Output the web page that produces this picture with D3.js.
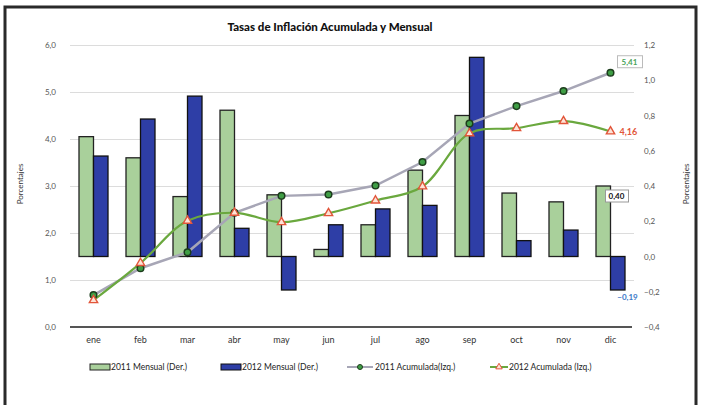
<!DOCTYPE html>
<meta charset="utf-8">
<head>
    <script src="https://d3js.org/d3.v7.min.js"></script>
    <style>
        body { margin: 0; background: #fff; }
        text { font-family: Lato, "Open Sans", sans-serif; }
        .grid line { stroke: #dcdcdc; }
    </style>
</head>
<body>
<div id="graph"></div>
<script>
    // months
    var months = ["ene","feb","mar","abr","may","jun","jul","ago","sep","oct","nov","dic"];
    // monthly rates (right axis)
    var mensual2011 = [0.68, 0.56, 0.34, 0.83, 0.35, 0.04, 0.18, 0.49, 0.80, 0.36, 0.31, 0.40];
    var mensual2012 = [0.57, 0.78, 0.91, 0.16, -0.19, 0.18, 0.27, 0.29, 1.13, 0.09, 0.15, -0.19];
    // accumulated rates (left axis)
    var acum2011 = [0.68, 1.25, 1.59, 2.43, 2.79, 2.82, 3.01, 3.51, 4.33, 4.70, 5.02, 5.41];
    var acum2012 = [0.57, 1.36, 2.26, 2.43, 2.23, 2.42, 2.69, 2.99, 4.12, 4.23, 4.38, 4.16];
    var leftTicks = [0, 1, 2, 3, 4, 5, 6];
    var rightTicks = [-0.4, -0.2, 0, 0.2, 0.4, 0.6, 0.8, 1.0, 1.2];

    var W = 702, H = 405;
    var margin = {top: 45, right: 68, bottom: 78, left: 70},
        width = W - margin.left - margin.right,
        height = H - margin.top - margin.bottom;

    var fmt = function(d) { return d3.format(".1f")(d).replace(".", ","); };
    function fmt2(v) { return d3.format(".2f")(v).replace(".", ","); }

    var svgRoot = d3.select("#graph").append("svg")
        .attr("width", W).attr("height", H);

    // outer frame
    svgRoot.append("rect")
        .attr("x", 5).attr("y", 7).attr("width", 691).attr("height", 410)
        .attr("fill", "#fff").attr("stroke", "#2a2a2a").attr("stroke-width", 3);

    svgRoot.append("text")
        .attr("x", 330).attr("y", 31)
        .attr("text-anchor", "middle")
        .style("font-size", "11.5px").style("font-weight", "900")
        .attr("fill", "#111")
        .text("Tasas de Inflación Acumulada y Mensual");

    var svg = svgRoot.append("g")
        .attr("transform", "translate(" + margin.left + "," + margin.top + ")");

    var x = d3.scaleBand().domain(months).range([0, width]);
    var xb = d3.scaleBand().domain(["a", "b"]).range([0, 29]);
    var yL = d3.scaleLinear().domain([0, 6]).range([height, 0]);
    var yR = d3.scaleLinear().domain([-0.4, 1.2]).range([height, 0]);

    // gridlines
    svg.append("g").attr("class", "grid")
        .call(d3.axisLeft(yL).tickValues(leftTicks.slice(1)).tickSize(-width).tickFormat(""))
        .call(function(g) { g.select(".domain").remove(); });

    // left axis labels
    svg.append("g")
        .call(d3.axisLeft(yL).tickValues(leftTicks).tickSize(0).tickPadding(14).tickFormat(fmt))
        .call(function(g) {
            g.select(".domain").remove();
            g.selectAll("text").style("font-size", "8px").attr("fill", "#555");
        });

    // right axis labels
    svg.append("g")
        .attr("transform", "translate(" + width + ",0)")
        .call(d3.axisRight(yR).tickValues(rightTicks).tickSize(0).tickPadding(10).tickFormat(fmt))
        .call(function(g) {
            g.select(".domain").remove();
            g.selectAll("text").style("font-size", "8px").attr("fill", "#555");
        });

    // axis titles
    svg.append("text")
        .attr("transform", "translate(-47," + (height / 2 - 2) + ") rotate(-90)")
        .attr("text-anchor", "middle")
        .style("font-size", "8px").attr("fill", "#333")
        .text("Porcentajes");
    svg.append("text")
        .attr("transform", "translate(" + (width + 55) + "," + (height / 2 - 2) + ") rotate(-90)")
        .attr("text-anchor", "middle")
        .style("font-size", "8px").attr("fill", "#333")
        .text("Porcentajes");

    // bars
    var off = (x.bandwidth() - 29) / 2;
    svg.append("g").selectAll("rect")
        .data(months)
        .enter().append("rect")
        .attr("x", function(d) { return x(d) + off + xb("a"); })
        .attr("y", function(d, i) { return yR(Math.max(0, mensual2011[i])); })
        .attr("width", xb.bandwidth())
        .attr("height", function(d, i) { return Math.abs(yR(mensual2011[i]) - yR(0)); })
        .attr("fill", "#a9d09b").attr("stroke", "#222").attr("stroke-width", 1.3);
    svg.append("g").selectAll("rect")
        .data(months)
        .enter().append("rect")
        .attr("x", function(d) { return x(d) + off + xb("b"); })
        .attr("y", function(d, i) { return yR(Math.max(0, mensual2012[i])); })
        .attr("width", xb.bandwidth())
        .attr("height", function(d, i) { return Math.abs(yR(mensual2012[i]) - yR(0)); })
        .attr("fill", "#2e3ea6").attr("stroke", "#111").attr("stroke-width", 1.3);

    // bottom axis line
    svg.append("line")
        .attr("x1", 0).attr("x2", width - 2)
        .attr("y1", height).attr("y2", height)
        .attr("stroke", "#555").attr("stroke-width", 2);

    svg.append("g")
        .attr("transform", "translate(0," + height + ")")
        .call(d3.axisBottom(x).tickSize(0).tickPadding(10))
        .call(function(g) {
            g.select(".domain").remove();
            g.selectAll("text").style("font-size", "9px").attr("fill", "#333");
        });

    var cx = function(d) { return x(d) + x.bandwidth() / 2; };

    // 2011 accumulated
    svg.append("path")
        .datum(months)
        .attr("fill", "none").attr("stroke", "#a7a6b6").attr("stroke-width", 2.5)
        .attr("d", d3.line().x(cx).y(function(d, i) { return yL(acum2011[i]); }));

    // 2012 accumulated
    svg.append("path")
        .datum(months)
        .attr("fill", "none").attr("stroke", "#6aa83e").attr("stroke-width", 2.2)
        .attr("d", d3.line().x(cx).y(function(d, i) { return yL(acum2012[i]); })
            .curve(d3.curveCatmullRom.alpha(0.5)));

    svg.append("g").selectAll("circle")
        .data(months)
        .enter().append("circle")
        .attr("cx", cx)
        .attr("cy", function(d, i) { return yL(acum2011[i]); })
        .attr("r", 3.3)
        .attr("fill", "#3f9e45").attr("stroke", "#1d3d1d").attr("stroke-width", 1.5);

    var tri = d3.symbol().type(d3.symbolTriangle).size(30);
    svg.append("g").selectAll("path")
        .data(months)
        .enter().append("path")
        .attr("d", tri)
        .attr("transform", function(d, i) { return "translate(" + cx(d) + "," + yL(acum2012[i]) + ")"; })
        .attr("fill", "#fde3d6").attr("stroke", "#e2553a").attr("stroke-width", 1.4);

    // data labels
    var last = months[11];
    var lb1 = svg.append("g")
        .attr("transform", "translate(" + (cx(last) + 19) + "," + (yL(acum2011[11]) - 11) + ")");
    lb1.append("rect").attr("x", -12).attr("y", -6).attr("width", 25).attr("height", 12)
        .attr("fill", "#fff").attr("stroke", "#bbb");
    lb1.append("text").attr("text-anchor", "middle").attr("dy", "0.35em")
        .style("font-size", "8px").style("font-weight", "bold").attr("fill", "#4aa35a")
        .text(fmt2(acum2011[11]));

    svg.append("text")
        .attr("x", cx(last) + 9).attr("y", yL(acum2012[11]))
        .attr("dy", "0.35em")
        .style("font-size", "9px").style("font-weight", "bold").attr("fill", "#e2553a")
        .text(fmt2(acum2012[11]));

    var lb2 = svg.append("g")
        .attr("transform", "translate(" + (cx(last) + 6) + "," + (yR(mensual2011[11]) + 10) + ")");
    lb2.append("rect").attr("x", -11).attr("y", -6).attr("width", 23).attr("height", 12)
        .attr("fill", "#fff").attr("stroke", "#999");
    lb2.append("text").attr("text-anchor", "middle").attr("dy", "0.35em")
        .style("font-size", "8px").style("font-weight", "bold").attr("fill", "#111")
        .text(fmt2(mensual2011[11]));

    svg.append("text")
        .attr("x", cx(last) + 17).attr("y", yR(mensual2012[11]) + 7)
        .attr("text-anchor", "middle").attr("dy", "0.35em")
        .style("font-size", "8px").style("font-weight", "bold").attr("fill", "#3a78c8")
        .text(fmt2(mensual2012[11]));

    // legend
    var lg = svgRoot.append("g").attr("transform", "translate(0,367)");
    lg.append("rect").attr("x", 90).attr("y", -3).attr("width", 20).attr("height", 6)
        .attr("fill", "#a9d09b").attr("stroke", "#222");
    lg.append("text").attr("x", 111).attr("dy", "0.35em").style("font-size", "8.5px").attr("fill", "#222")
        .text("2011 Mensual (Der.)");
    lg.append("rect").attr("x", 221).attr("y", -3).attr("width", 20).attr("height", 6)
        .attr("fill", "#2e3ea6").attr("stroke", "#111");
    lg.append("text").attr("x", 242).attr("dy", "0.35em").style("font-size", "8.5px").attr("fill", "#222")
        .text("2012 Mensual (Der.)");
    lg.append("line").attr("x1", 347).attr("x2", 373).attr("stroke", "#a7a6b6").attr("stroke-width", 2);
    lg.append("circle").attr("cx", 360).attr("r", 2.5).attr("fill", "#3f9e45").attr("stroke", "#1d3d1d");
    lg.append("text").attr("x", 375).attr("dy", "0.35em").style("font-size", "8.5px").attr("fill", "#222")
        .text("2011 Acumulada(Izq.)");
    lg.append("line").attr("x1", 490).attr("x2", 508).attr("stroke", "#6aa83e").attr("stroke-width", 2);
    lg.append("path").attr("d", d3.symbol().type(d3.symbolTriangle).size(18))
        .attr("transform", "translate(499,0)")
        .attr("fill", "#fde3d6").attr("stroke", "#e2553a");
    lg.append("text").attr("x", 509).attr("dy", "0.35em").style("font-size", "8.5px").attr("fill", "#222")
        .text("2012 Acumulada (Izq.)");
</script>
</body>
